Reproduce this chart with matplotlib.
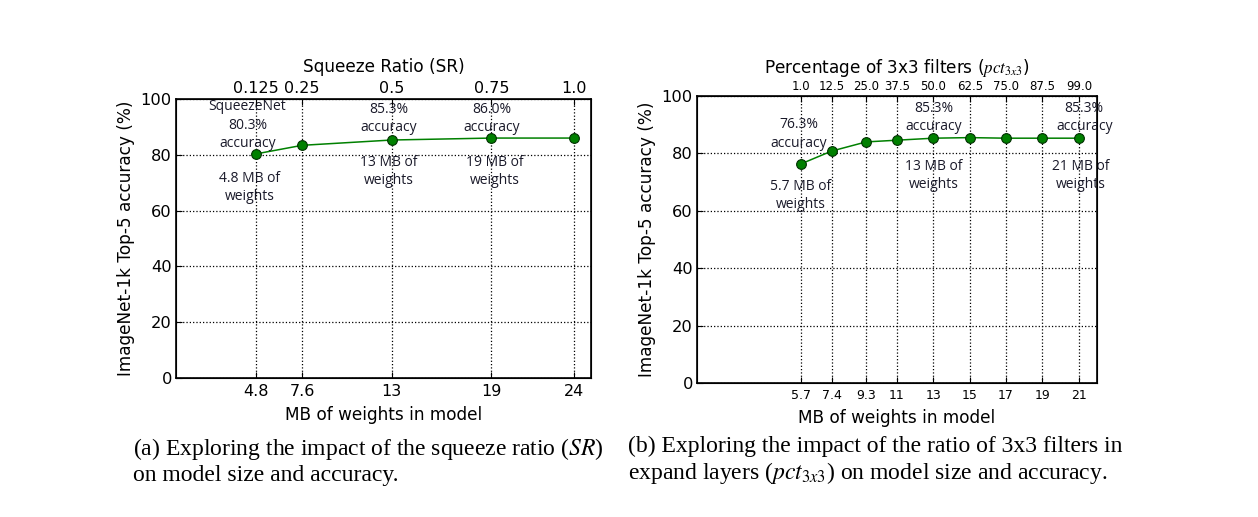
import matplotlib
matplotlib.use("Agg")
import matplotlib.pyplot as plt

# ---- data ----
sizes_a = [4.8, 7.6, 13, 19, 24]
acc_a = [80.3, 83.4, 85.3, 86.0, 86.0]
size_labels_a = ["4.8", "7.6", "13", "19", "24"]
sr_labels = ["0.125", "0.25", "0.5", "0.75", "1.0"]

sizes_b = [5.7, 7.4, 9.3, 11, 13, 15, 17, 19, 21]
acc_b = [76.3, 80.8, 84.0, 84.6, 85.3, 85.5, 85.3, 85.3, 85.3]
size_labels_b = ["5.7", "7.4", "9.3", "11", "13", "15", "17", "19", "21"]
pct_labels = ["1.0", "12.5", "25.0", "37.5", "50.0", "62.5", "75.0", "87.5", "99.0"]

yticks = [0, 20, 40, 60, 80, 100]

notes_a = [
    (4.3, 90.6, "SqueezeNet\n80.3%\naccuracy"),
    (4.45, 68.4, "4.8 MB of\nweights"),
    (12.8, 93.0, "85.3%\naccuracy"),
    (12.8, 74.0, "13 MB of\nweights"),
    (19.0, 93.0, "86.0%\naccuracy"),
    (19.2, 74.0, "19 MB of\nweights"),
]
notes_b = [
    (5.6, 86.8, "76.3%\naccuracy"),
    (5.7, 65.3, "5.7 MB of\nweights"),
    (13.0, 92.6, "85.3%\naccuracy"),
    (13.0, 72.4, "13 MB of\nweights"),
    (21.3, 92.6, "85.3%\naccuracy"),
    (21.1, 72.4, "21 MB of\nweights"),
]

plt.rcParams["font.family"] = ["DejaVu Sans"]
plt.rcParams["mathtext.fontset"] = "stix"

W, H = 1258, 517
fig = plt.figure(figsize=(W / 100, H / 100), dpi=100)

def px_axes(x0, x1, ytop, ybot):
    return [x0 / W, 1 - ybot / H, (x1 - x0) / W, (ybot - ytop) / H]

def panel(rect, sizes, acc, size_labels, top_labels, xlim, top_title,
          tick_fs, top_fs, notes, top_pad, bot_pad):
    ax = fig.add_axes(rect)
    ax.plot(sizes, acc, "-o", color="#008000", lw=1.1, markersize=7,
            markerfacecolor="#008000", markeredgecolor="#003000",
            markeredgewidth=0.8, zorder=3)
    ax.set_xlim(*xlim)
    ax.set_ylim(0, 100)
    ax.set_xticks(sizes)
    ax.set_xticklabels(size_labels, fontsize=tick_fs)
    ax.set_yticks(yticks)
    ax.tick_params(axis="y", labelsize=11.7, direction="in", length=4, pad=3)
    ax.tick_params(axis="x", direction="in", length=4, pad=4)
    ax.grid(True, linestyle=":", color="black", linewidth=0.9)
    for s in ax.spines.values():
        s.set_linewidth(1.2)
    ax.set_xlabel("MB of weights in model", fontsize=12.2, labelpad=bot_pad)
    ax.set_ylabel("ImageNet-1k Top-5 accuracy (%)", fontsize=12.2, labelpad=4)
    top = ax.twiny()
    top.set_xlim(*xlim)
    top.set_xticks(sizes)
    top.set_xticklabels(top_labels, fontsize=top_fs)
    top.tick_params(axis="x", direction="in", length=4, pad=2)
    top.set_xlabel(top_title, fontsize=12.2, labelpad=top_pad,
                   family=["DejaVu Sans"])
    for x, y, t in notes:
        ax.text(x, y, t, ha="center", va="center", multialignment="center",
                fontsize=10, family=["Open Sans", "DejaVu Sans"],
                color="#1a1a2a", linespacing=1.3, zorder=4)
    return ax

panel(px_axes(176, 591, 99, 378), sizes_a, acc_a, size_labels_a, sr_labels,
      (0, 25), "Squeeze Ratio (SR)", 11.5, 11.5, notes_a, 6.5, 5.5)
panel(px_axes(697, 1097, 96, 383), sizes_b, acc_b, size_labels_b, pct_labels,
      (0, 22), r"Percentage of 3x3 filters ($pct_{3x3}$)", 9, 8.5, notes_b, 5.5, 5.5)

cap_kw = dict(fontsize=17, family=["Liberation Serif"], va="center", ha="left",
              linespacing=1.2)
fig.text(133 / W, 1 - 461 / H,
         "(a) Exploring the impact of the squeeze ratio ($SR$)\non model size and accuracy.",
         **cap_kw)
fig.text(628 / W, 1 - 461 / H,
         "(b) Exploring the impact of the ratio of 3x3 filters in\nexpand layers ($pct_{3x3}$) on model size and accuracy.",
         **cap_kw)

fig.savefig("out.png", dpi=100)
